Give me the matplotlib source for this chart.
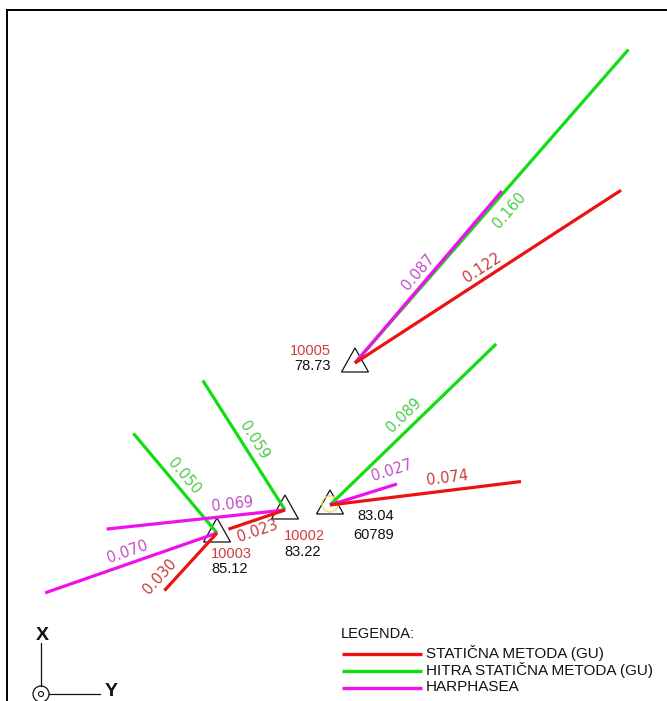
"""
Primerjava vektorjev odstopanj GNSS metod na točkah mreže
"""
import numpy as np
import matplotlib
matplotlib.use('Agg')
import matplotlib.pyplot as plt
from matplotlib.patches import Polygon, Circle

# --- podatki ---------------------------------------------------------------
# točke (položaj v enotah risbe, y navzgor)
stations = ['10005', '10002', '10003', '60789']
station_e = [355, 285, 217, 330]
station_n = [338, 191, 168, 196]
heights = ['78.73', '83.22', '85.12', '83.04']

# vektorji odstopanj: točka, metoda, velikost [m], smer [°, matematično]
vec_station = ['10005', '10005', '10005',
               '10002', '10002', '10002',
               '10003', '10003', '10003',
               '60789', '60789', '60789']
vec_method = ['rapid', 'harp', 'static'] * 4
vec_value = [0.160, 0.087, 0.122,
             0.059, 0.069, 0.023,
             0.050, 0.070, 0.030,
             0.089, 0.027, 0.074]
vec_angle = [48.9, 49.5, 33.0,
             122.4, 186.1, 198.7,
             130.0, 199.2, 227.6,
             44.1, 17.4, 7.0]

methods = ['static', 'rapid', 'harp']
method_names = ['STATIČNA METODA (GU)', 'HITRA STATIČNA METODA (GU)', 'HARPHASEA']

# --- slog ------------------------------------------------------------------
SCALE = 2600  # enot risbe na meter
line_col = {'static': '#ee1111', 'rapid': '#11dd11', 'harp': '#ee11ee'}
text_col = {'static': '#c83c3c', 'rapid': '#4ccc4c', 'harp': '#c050c8'}
# položaj oznake: delež vzdolž vektorja, stran (+1 levo, -1 desno), odmik
lab_frac = [0.52, 0.49, 0.50, 0.49, 0.29, 0.55, 0.50, 0.50, 0.90, 0.50, 0.99, 0.62]
lab_side = [-1, 1, 1, -1, -1, 1, -1, -1, -1, 1, 1, 1]
lab_off = [16, 11, 10.5, 11, 11.5, 11, 11.5, 11.5, 13, 12.5, 14.5, 12.5]
# odmiki imen točk in višin (dx, dy_ime, dy_višina, poravnava)
name_pos = {'10005': (-24, 12, -3, 'right'),
            '10002': (-1, -26, -42, 'left'),
            '10003': (-6, -21, -36, 'left'),
            '60789': (23, -30, -11, 'left')}

fig = plt.figure(figsize=(6.67, 7.01), dpi=100)
ax = fig.add_axes([7 / 667, 0, 660 / 667, 691 / 701])
ax.set_xlim(7, 667)
ax.set_ylim(0, 691)
ax.set_xticks([])
ax.set_yticks([])
for s in ['right', 'bottom']:
    ax.spines[s].set_visible(False)
for s in ['left', 'top']:
    ax.spines[s].set_linewidth(1.4)

pos = dict(zip(stations, zip(station_e, station_n)))
zord = {'rapid': 3, 'harp': 4, 'static': 5}

# vektorji z oznakami
for st, m, v, a, fr, sd, off in zip(vec_station, vec_method, vec_value, vec_angle,
                                    lab_frac, lab_side, lab_off):
    x0, y0 = pos[st]
    t = np.radians(a)
    L = v * SCALE
    x1, y1 = x0 + L * np.cos(t), y0 + L * np.sin(t)
    ax.plot([x0, x1], [y0, y1], color=line_col[m], lw=2.3,
            solid_capstyle='butt', zorder=zord[m])
    nx, ny = -np.sin(t), np.cos(t)
    lx = x0 + fr * L * np.cos(t) + sd * off * nx
    ly = y0 + fr * L * np.sin(t) + sd * off * ny
    rot = a % 180
    if rot > 90:
        rot -= 180
    ax.text(lx, ly, f'{v:.3f}', color=text_col[m], fontsize=10.5,
            family='DejaVu Sans', rotation=rot, rotation_mode='anchor',
            ha='center', va='center', zorder=6)

# točke
for st, e, n, h in zip(stations, station_e, station_n, heights):
    tri = Polygon([(e, n + 15), (e - 13.5, n - 9), (e + 13.5, n - 9)],
                  closed=True, fill=False, edgecolor='#111111', lw=0.9, zorder=2)
    ax.add_patch(tri)
    dx, dyn, dyh, al = name_pos[st]
    ncol = '#111111' if st == '60789' else '#d03c3c'
    ax.text(e + dx, n + dyn, st, color=ncol, fontsize=10.5,
            family='Liberation Sans', ha=al, va='center')
    ax.text(e + dx + (4 if st == '60789' else 0), n + dyh, h, color='#111111',
            fontsize=10.5, family='Liberation Sans', ha=al, va='center')
    if st == '60789':
        ax.add_patch(Circle((e, n + 1), 8, fill=False, edgecolor='#eedd66',
                            lw=1.0, zorder=2))

# legenda
ax.text(341, 67, 'LEGENDA:', fontsize=10.5, family='Liberation Sans', ha='left',
        va='center', color='#111111')
for i, (m, nm) in enumerate(zip(methods, method_names)):
    yy = 47 - i * 17
    ax.plot([342, 422], [yy, yy], color=line_col[m], lw=2.4, solid_capstyle='butt')
    ax.text(426, yy + 1, nm, fontsize=11, family='Liberation Sans', ha='left',
            va='center', color='#111111')

# smerni znak koordinatnega sistema
ax.plot([41, 41], [15, 58], color='#111111', lw=0.9)
ax.plot([49, 100], [7, 7], color='#111111', lw=0.9)
ax.add_patch(Circle((41, 7), 8, fill=False, edgecolor='#111111', lw=0.9))
ax.add_patch(Circle((41, 7), 2.5, fill=False, edgecolor='#111111', lw=0.8))
ax.text(42, 65, 'X', fontsize=14, fontweight='bold', family='Liberation Sans',
        ha='center', va='center', color='#111111')
ax.text(111, 10, 'Y', fontsize=14, fontweight='bold', family='Liberation Sans',
        ha='center', va='center', color='#111111')

fig.savefig('out.png', dpi=100)
plt.close(fig)
